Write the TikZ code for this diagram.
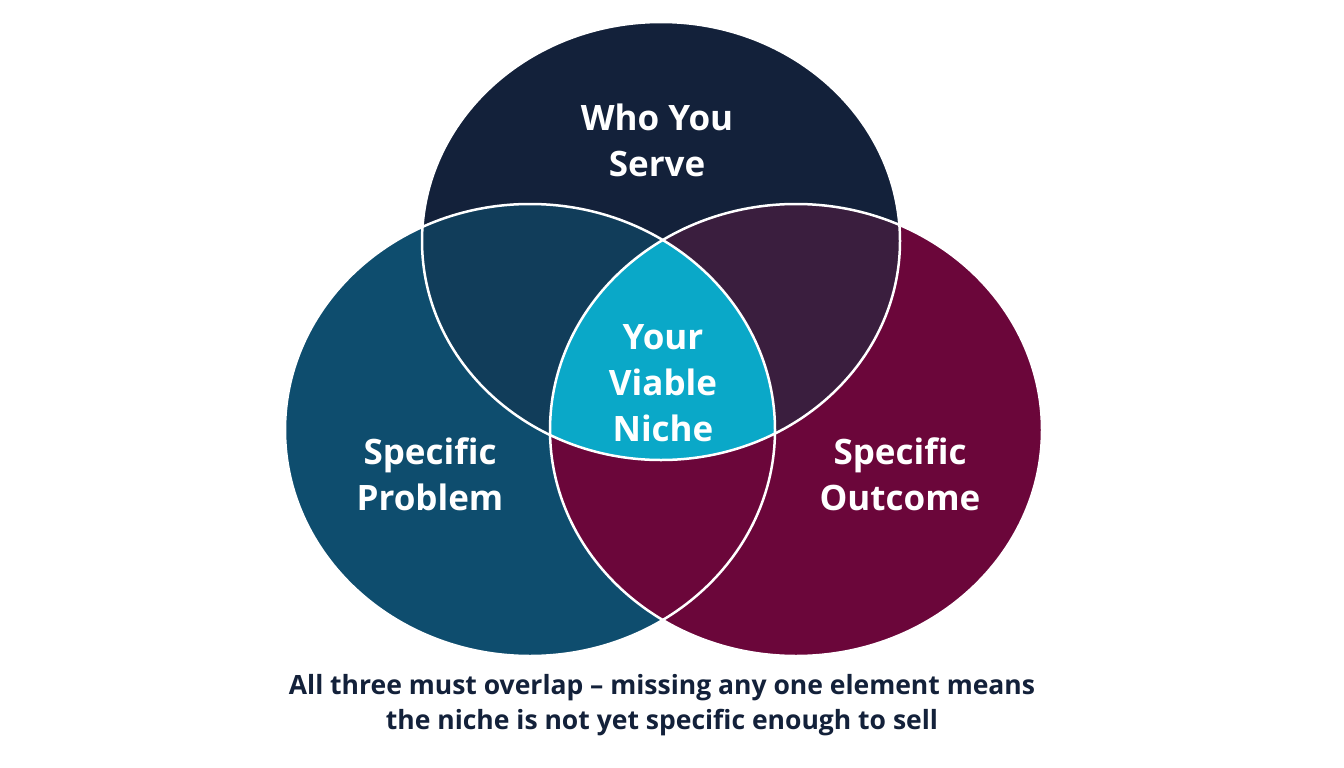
\documentclass[tikz,border=0pt]{standalone}
\usepackage{fontspec}
\setmainfont{Open Sans}
\begin{document}
\begin{tikzpicture}[x=1pt,y=-1pt,
  lbl/.style={text=white,font=\fontsize{35}{46}\selectfont\bfseries,align=center},
  caption/.style={text=navy,font=\fontsize{26.5}{35}\selectfont\bfseries,align=center},
  edge/.style={draw=white,line width=2.5pt}]
\definecolor{navy}{HTML}{13213A}
\definecolor{teal}{HTML}{0E4D6E}
\definecolor{maroon}{HTML}{6B063A}
\definecolor{tl}{HTML}{113D5A}
\definecolor{tr}{HTML}{3A1E3E}
\definecolor{cyan}{HTML}{0AA8C8}
\useasboundingbox[fill=white] (0,0) rectangle (1344,768);
\def\T{(661,241) ellipse [x radius=239,y radius=219]}
\def\L{(530,430) ellipse [x radius=245,y radius=226]}
\def\R{(796,430) ellipse [x radius=246,y radius=226]}
\fill[teal] \L;
\fill[maroon] \R;
\fill[navy] \T;
\begin{scope}\clip \T; \fill[tl] \L; \fill[tr] \R; \end{scope}
\begin{scope}\clip \T; \clip \L; \fill[cyan] \R; \end{scope}
\draw[edge] \T; \draw[edge] \L; \draw[edge] \R;
\node[lbl] (who) at (657,140) {Who You\\Serve};
\node[lbl] (niche) at (663,383) {Your\\Viable\\Niche};
\node[lbl] (prob) at (430,474) {Specific\\Problem};
\node[lbl] (out) at (900,474) {Specific\\Outcome};
\node[caption] (c) at (662,705) {All three must overlap -- missing any one element means\\the niche is not yet specific enough to sell};
\end{tikzpicture}
\end{document}
